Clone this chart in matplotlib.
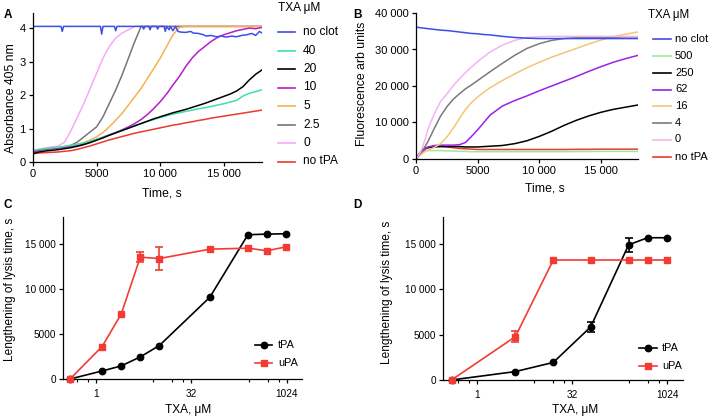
import numpy as np
import matplotlib
matplotlib.use('Agg')
import matplotlib.pyplot as plt
from matplotlib.lines import Line2D
from matplotlib.ticker import FixedLocator, FuncFormatter, NullFormatter

plt.rcParams['font.family'] = ['Liberation Sans', 'DejaVu Sans']

# ---------------- data ----------------
# Panel A: absorbance 405 nm, time grid every 500 s
time_a = list(range(0, 18001, 500))
abs_no_tpa = [0.25, 0.27, 0.28, 0.29, 0.30, 0.32, 0.34, 0.38, 0.43, 0.48,
              0.54, 0.60, 0.66, 0.71, 0.76, 0.81, 0.86, 0.90, 0.94, 0.98,
              1.02, 1.06, 1.10, 1.13, 1.17, 1.20, 1.24, 1.27, 1.31, 1.34,
              1.37, 1.40, 1.43, 1.46, 1.49, 1.52, 1.55]
abs_20 = [0.25, 0.30, 0.33, 0.35, 0.37, 0.40, 0.43, 0.47, 0.52, 0.58,
          0.65, 0.72, 0.80, 0.87, 0.94, 1.01, 1.08, 1.15, 1.22, 1.29,
          1.35, 1.41, 1.47, 1.52, 1.57, 1.63, 1.69, 1.75, 1.82, 1.89,
          1.96, 2.03, 2.12, 2.25, 2.45, 2.62, 2.75]
abs_40 = [0.35, 0.38, 0.40, 0.42, 0.44, 0.47, 0.50, 0.53, 0.57, 0.62,
          0.68, 0.74, 0.80, 0.87, 0.94, 1.01, 1.08, 1.15, 1.21, 1.27,
          1.33, 1.38, 1.43, 1.47, 1.51, 1.55, 1.59, 1.62, 1.66, 1.70,
          1.74, 1.79, 1.84, 1.97, 2.05, 2.10, 2.16]
abs_10 = [0.30, 0.35, 0.38, 0.40, 0.42, 0.44, 0.46, 0.50, 0.55, 0.61,
          0.67, 0.74, 0.81, 0.88, 0.96, 1.05, 1.15, 1.27, 1.42, 1.60,
          1.80, 2.03, 2.30, 2.55, 2.85, 3.10, 3.30, 3.45, 3.60, 3.72,
          3.80, 3.86, 3.92, 3.96, 4.00, 3.98, 4.02]
abs_5 = [0.30, 0.36, 0.40, 0.42, 0.44, 0.46, 0.49, 0.53, 0.58, 0.66,
         0.75, 0.88, 1.05, 1.25, 1.45, 1.70, 1.95, 2.20, 2.50, 2.80,
         3.10, 3.45, 3.80, 4.02, 4.05, 4.05, 4.05, 4.05, 4.05, 4.05,
         4.05, 4.05, 4.05, 4.05, 4.05, 4.05, 4.05]
abs_2_5 = [0.30, 0.35, 0.38, 0.40, 0.42, 0.45, 0.50, 0.60, 0.75, 0.90,
           1.05, 1.35, 1.75, 2.15, 2.60, 3.10, 3.60, 4.05, 4.05, 4.05,
           4.05, 4.05, 4.05, 4.05, 4.05, 4.05, 4.05, 4.05, 4.05, 4.05,
           4.05, 4.05, 4.05, 4.05, 4.05, 4.05, 4.05]
abs_0 = [0.30, 0.38, 0.42, 0.45, 0.48, 0.60, 0.95, 1.35, 1.75, 2.20,
         2.65, 3.10, 3.45, 3.70, 3.85, 3.95, 4.05, 4.05, 4.05, 4.05,
         4.05, 4.05, 4.05, 4.05, 4.05, 4.05, 4.05, 4.05, 4.05, 4.05,
         4.05, 4.05, 4.05, 4.05, 4.05, 4.05, 4.05]
time_noclot_a = [0, 2200, 2300, 2400, 5300, 5400, 5500, 6400, 6500, 6600,
                 8600, 8700, 8800, 9100, 9200, 9300, 9700, 9800, 9900, 10300,
                 10400, 10500, 10700, 10800, 11000, 11200, 11400, 11600, 12000, 12400,
                 12600, 13000, 13400, 13600, 14000, 14400, 14800, 15200, 15600, 16000,
                 16400, 16800, 17200, 17500, 17800, 18000]
abs_noclot = [4.05, 4.05, 3.90, 4.05, 4.05, 3.82, 4.05, 4.05, 3.92, 4.05,
              4.05, 3.97, 4.05, 4.05, 3.95, 4.05, 4.05, 3.97, 4.05, 4.05,
              3.90, 4.05, 3.95, 4.05, 3.92, 4.05, 3.90, 3.88, 3.87, 3.90,
              3.85, 3.84, 3.80, 3.76, 3.78, 3.74, 3.76, 3.73, 3.76, 3.74,
              3.78, 3.80, 3.84, 3.78, 3.90, 3.85]

# Panel B: fluorescence
time_b = [0, 250, 500, 750, 1000, 1500, 2000, 2500, 3000, 3500, 4000, 4500, 5000, 5500,
          6000, 7000, 8000, 9000, 10000, 11000, 12000, 13000, 14000, 15000, 16000, 17000, 18000]
fl_noclot = [36200, 36000, 35900, 35800, 35700, 35500, 35300, 35200, 35000, 34800, 34600, 34400, 34300, 34100,
             34000, 33600, 33300, 33100, 33000, 33000, 33000, 33000, 33000, 33000, 33000, 33000, 33000]
fl_500 = [0, 1300, 2000, 2200, 2300, 2300, 2300, 2200, 2200, 2100, 2100, 2000, 2000, 2000,
          2000, 2000, 2000, 2000, 2000, 2000, 2000, 2050, 2050, 2100, 2100, 2100, 2100]
fl_250 = [0, 1200, 2200, 2800, 3100, 3300, 3400, 3400, 3400, 3400, 3300, 3300, 3300, 3400,
          3500, 3700, 4200, 5000, 6200, 7600, 9200, 10600, 11800, 12800, 13600, 14200, 14800]
fl_62 = [0, 1000, 2000, 2800, 3300, 3700, 3800, 3800, 3800, 3900, 4500, 6200, 8000, 10000,
         12000, 14500, 16000, 17300, 18700, 20000, 21300, 22600, 24000, 25300, 26500, 27500, 28400]
fl_16 = [0, 800, 1500, 2100, 2500, 3200, 4200, 6000, 8300, 11000, 13500, 15500, 17000, 18300,
         19500, 21500, 23300, 25000, 26500, 27900, 29100, 30300, 31500, 32600, 33500, 34200, 34800]
fl_4 = [0, 1000, 2200, 3500, 5000, 8500, 11800, 14300, 16300, 17800, 19200, 20300, 21500, 22700,
        23900, 26200, 28400, 30300, 31600, 32500, 33000, 33200, 33200, 33200, 33200, 33100, 33100]
fl_0 = [0, 1200, 3000, 5500, 8500, 12500, 15800, 17800, 20000, 21900, 23600, 25200, 26700, 28000,
        29300, 31200, 32500, 33300, 33500, 33600, 33600, 33600, 33600, 33600, 33600, 33600, 33600]
fl_no_tpa = [0, 1500, 2500, 3000, 3300, 3500, 3500, 3300, 3100, 2900, 2800, 2700, 2600, 2600,
             2600, 2600, 2600, 2600, 2600, 2600, 2600, 2650, 2650, 2700, 2700, 2700, 2700]

# Panel C: lengthening of lysis time (s) vs TXA (uM)
txa_c = [0, 1.25, 2.5, 5, 10, 62.5, 250, 500, 1000]
tpa_c = [0, 890, 1450, 2450, 3710, 9060, 16000, 16070, 16110]
tpa_c_err = [0, 0, 0, 0, 0, 0, 0, 0, 0]
upa_c = [0, 3600, 7200, 13510, 13360, 14400, 14510, 14220, 14660]
upa_c_err = [0, 0, 0, 560, 1320, 0, 0, 0, 0]

# Panel D
txa_d = [0, 4, 16, 62.5, 250, 500, 1000]
tpa_d = [0, 930, 1940, 5860, 14930, 15710, 15710]
tpa_d_err = [0, 0, 0, 560, 750, 0, 0]
upa_d = [0, 4780, 13250, 13250, 13250, 13250, 13250]
upa_d_err = [0, 600, 0, 0, 0, 0, 0]

legend_a_labels = ['no clot', '40', '20', '10', '5', '2.5', '0', 'no tPA']
legend_b_labels = ['no clot', '500', '250', '62', '16', '4', '0', 'no tPA']

# ---------------- style ----------------
W, H = 709, 418
C_BLUE = '#3c4ee8'
C_RED = '#ea3a2e'
colors_a = [C_BLUE, '#3fe0a2', '#000000', '#b51ccb', '#f6b252', '#767676', '#f7a9f6', C_RED]
colors_b = [C_BLUE, '#a0e6a0', '#000000', '#9a22e6', '#f7c477', '#7a7a7a', '#f2b5f2', C_RED]
C_TPA = '#000000'
C_UPA = '#f23b33'

fig = plt.figure(figsize=(W / 100, H / 100), dpi=100)


def add_ax(l, r, t, b):
    return fig.add_axes([l / W, 1 - b / H, (r - l) / W, (b - t) / H])


def style(ax, tick_fs):
    for s in ['top', 'right']:
        ax.spines[s].set_visible(False)
    for s in ['left', 'bottom']:
        ax.spines[s].set_linewidth(0.9)
    ax.tick_params(which='major', direction='out', length=3.2, width=0.9,
                   labelsize=tick_fs, pad=2)
    ax.tick_params(which='minor', direction='out', length=2.0, width=0.8)


def thousands(v, pos):
    v = int(round(v))
    return f"{v:,}".replace(",", " ") if v >= 10000 else str(v)


def label_at(ax, box, which, text, px, py, fs):
    l, r, t, b = box
    x = (px - l) / (r - l)
    y = (b - py) / (b - t)
    if which == 'x':
        ax.set_xlabel(text, fontsize=fs)
        ax.xaxis.set_label_coords(x, y)
        ax.xaxis.label.set_va('center')
    else:
        ax.set_ylabel(text, fontsize=fs)
        ax.yaxis.set_label_coords(x, y)
        ax.yaxis.label.set_va('center')


def fig_line(x0, x1, y, color, lw=1.3, marker=None, ms=4.5):
    xs = [x0 / W, (x0 + x1) / 2 / W, x1 / W]
    ys = [1 - y / H] * 3
    ln = Line2D(xs, ys, color=color, lw=lw, transform=fig.transFigure,
                marker=marker, markevery=[1] if marker else None, markersize=ms)
    fig.add_artist(ln)


# ---------------- Panel A ----------------
boxA = (33, 262, 13, 162)
axA = add_ax(*boxA)
style(axA, 8)
series_a = [abs_40, abs_20, abs_10, abs_5, abs_2_5, abs_0, abs_no_tpa]
cols_a = colors_a[1:]
order = [6, 5, 4, 3, 2, 0, 1]
for i in order:
    axA.plot(time_a, series_a[i], color=cols_a[i], lw=1.1)
axA.plot(time_noclot_a, abs_noclot, color=C_BLUE, lw=1.1)
axA.set_xlim(0, 18000)
axA.set_ylim(0, 4.45)
axA.set_xticks([0, 5000, 10000, 15000])
axA.set_yticks([0, 1, 2, 3, 4])
axA.xaxis.set_major_formatter(FuncFormatter(thousands))
label_at(axA, boxA, 'x', 'Time, s', 162, 193, 8.8)
label_at(axA, boxA, 'y', 'Absorbance 405 nm', 11, 98, 8.8)

fig.text(278 / W, 1 - 8 / H, 'TXA μM', fontsize=8.6, va='center', ha='left')
ys_a = [32, 50.5, 69, 87.5, 106, 124.5, 143, 161.5]
for y, c, lab in zip(ys_a, colors_a, legend_a_labels):
    fig_line(278, 295, y, c, lw=1.2)
    fig.text(303 / W, 1 - y / H, lab, fontsize=8.6, va='center', ha='left')

# ---------------- Panel B ----------------
boxB = (416, 638, 13, 159)
axB = add_ax(*boxB)
style(axB, 8)
series_b = [fl_noclot, fl_500, fl_250, fl_62, fl_16, fl_4, fl_0, fl_no_tpa]
for i in [1, 7, 2, 3, 4, 5, 6, 0]:
    axB.plot(time_b, series_b[i], color=colors_b[i], lw=1.1)
axB.set_xlim(0, 18000)
axB.set_ylim(0, 40000)
axB.set_xticks([0, 5000, 10000, 15000])
axB.set_yticks([0, 10000, 20000, 30000, 40000])
axB.xaxis.set_major_formatter(FuncFormatter(thousands))
axB.yaxis.set_major_formatter(FuncFormatter(thousands))
label_at(axB, boxB, 'x', 'Time, s', 545, 189, 8.8)
label_at(axB, boxB, 'y', 'Fluorescence arb units', 362, 84, 8.8)

fig.text(648 / W, 1 - 15 / H, 'TXA μM', fontsize=8.3, va='center', ha='left')
ys_b = [39, 56, 73, 89.5, 106, 123, 139.5, 156.5]
for y, c, lab in zip(ys_b, colors_b, legend_b_labels):
    fig_line(653, 671, y, c, lw=1.2)
    fig.text(675 / W, 1 - y / H, lab, fontsize=8.0, va='center', ha='left')

# ---------------- Panels C and D ----------------
ZERO_POS = 0.39


def dose_panel(box, conc, tpa, tpa_err, upa, upa_err, xlims, xlab_xy, ylab_xy, leg):
    ax = add_ax(*box)
    style(ax, 7.2)
    x = np.array([ZERO_POS if c == 0 else c for c in conc], dtype=float)
    for yv, err, col, mk in [(tpa, tpa_err, C_TPA, 'o'), (upa, upa_err, C_UPA, 's')]:
        yv = np.array(yv, dtype=float)
        err = np.array(err, dtype=float)
        ax.plot(x, yv, color=col, lw=1.2, marker=mk, markersize=4.6, zorder=3,
                clip_on=False)
        m = err > 0
        if m.any():
            ax.errorbar(x[m], yv[m], yerr=err[m], fmt='none', ecolor=col,
                        elinewidth=1.2, capsize=2.6, capthick=1.2, zorder=4)
    ax.set_xscale('log', base=2)
    ax.set_xlim(*xlims)
    ax.set_ylim(0, 18000)
    ax.xaxis.set_major_locator(FixedLocator([1, 32, 1024]))
    ax.xaxis.set_major_formatter(FuncFormatter(lambda v, p: f"{v:g}"))
    ax.xaxis.set_minor_locator(FixedLocator([0.5, 0.75, 8, 16, 24, 256, 512, 768]))
    ax.xaxis.set_minor_formatter(NullFormatter())
    ax.set_yticks([0, 5000, 10000, 15000])
    ax.yaxis.set_major_formatter(FuncFormatter(thousands))
    ax.tick_params(axis='x', pad=4)
    label_at(ax, box, 'x', 'TXA, μM', xlab_xy[0], xlab_xy[1], 8.6)
    label_at(ax, box, 'y', 'Lengthening of lysis time, s', ylab_xy[0], ylab_xy[1], 8.6)
    x0, x1, xt, y1, y2 = leg
    fig_line(x0, x1, y1, C_TPA, lw=1.2, marker='o', ms=4.6)
    fig.text(xt / W, 1 - y1 / H, 'tPA', fontsize=7.8, va='center', ha='left')
    fig_line(x0, x1, y2, C_UPA, lw=1.2, marker='s', ms=4.6)
    fig.text(xt / W, 1 - y2 / H, 'uPA', fontsize=7.8, va='center', ha='left')
    return ax


boxC = (63.3, 302, 216.7, 379)
dose_panel(boxC, txa_c, tpa_c, tpa_c_err, upa_c, upa_c_err, (0.305, 1784),
           (188, 410), (10, 289), (255, 272, 278, 345, 363))
boxD = (443.3, 683, 217, 380)
dose_panel(boxD, txa_d, tpa_d, tpa_d_err, upa_d, upa_d_err, (0.289, 1817),
           (575, 410), (387, 292), (639, 657, 662, 348, 366))

# panel letters
for lab, px, py in [('A', 4, 15), ('B', 353, 15), ('C', 4, 205), ('D', 353, 205)]:
    fig.text(px / W, 1 - py / H, lab, fontsize=8.5, fontweight='bold',
             va='center', ha='left')

fig.savefig('out.png', dpi=100)
